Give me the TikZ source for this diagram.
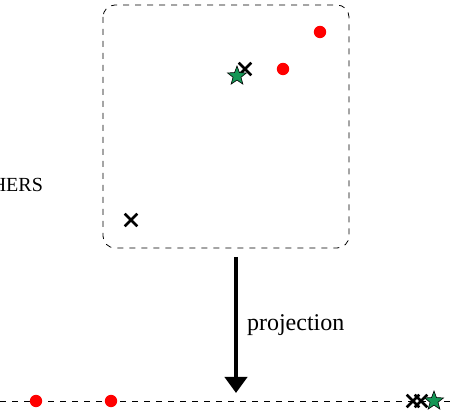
\documentclass[tikz,border=0pt]{standalone}
\usepackage{fontspec}
\setmainfont{Liberation Serif}
\usepackage{tikz}
\usetikzlibrary{arrows.meta, shapes.geometric, shapes.misc}
\definecolor{StarGreen}{RGB}{20,150,85}

\tikzset{
  dot/.style={circle, fill=red, inner sep=0pt, minimum size=6.2pt},
  xmark/.style={cross out, draw=black, line width=1.3pt, inner sep=0pt, minimum size=5pt},
  starmark/.style={star, star points=5, star point ratio=2.4, fill=StarGreen, draw=black,
    line width=0.3pt, inner sep=0pt, minimum size=10pt},
}

\begin{document}
\begin{tikzpicture}[x=0.5pt, y=-0.5pt, every node/.style={font=\fontsize{12}{14}\selectfont}]
    \useasboundingbox (0,0) rectangle (454,415);

    % --- Espacio original ---
    \draw[dashed, rounded corners=6pt] (103,5) rectangle (349,248);
    \node[anchor=east, font=\fontsize{10}{12}\selectfont] (otros) at (50,185) {OTHERS};

    \node[dot] (r1) at (320,32) {};
    \node[dot] (r2) at (283,69) {};
    \node[xmark] (x1) at (245,69) {};
    \node[starmark] (s1) at (237,76) {};
    \node[xmark] (x2) at (131,220) {};

    % --- Proyeccion ---
    \coordinate (arriba) at (236,257);
    \coordinate (abajo) at (236,393);
    \draw[line width=2.4pt, -{Triangle[length=8pt, width=11pt]}] (arriba) -- (abajo)
      node[midway, right=1pt] {projection};

    % --- Recta proyectada ---
    \coordinate (izq) at (0,401);
    \coordinate (der) at (454,401);
    \draw[dashed] (izq) -- (der);
    \node[dot] (p1) at (36,401) {};
    \node[dot] (p2) at (111,401) {};
    \node[xmark] (p3) at (413,401) {};
    \node[xmark] (p4) at (421,401) {};
    \node[starmark] (p5) at (434,401) {};
\end{tikzpicture}
\end{document}
